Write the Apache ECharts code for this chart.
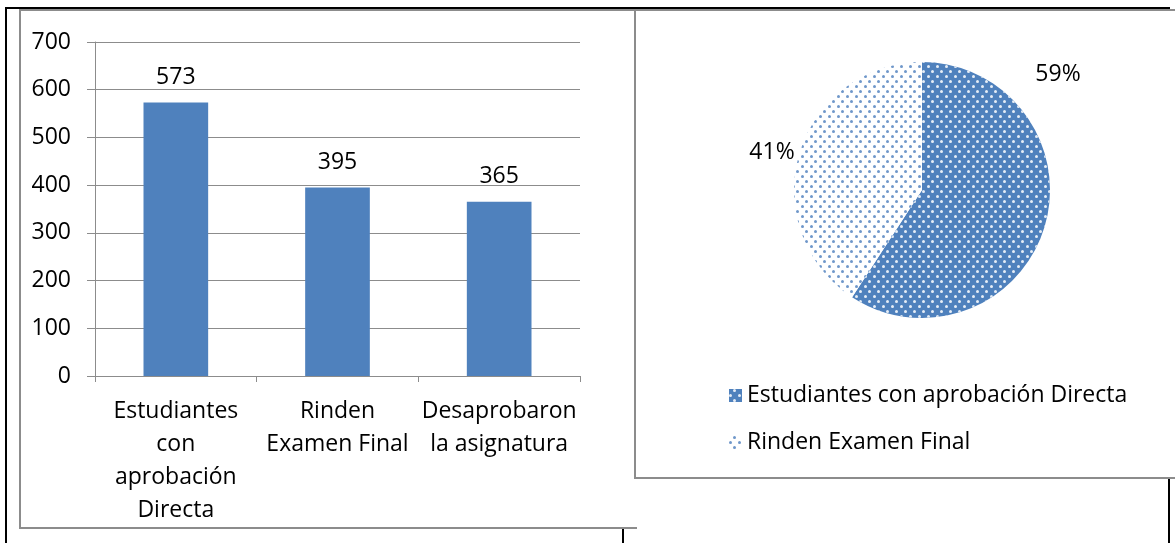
<!DOCTYPE html>
<html>
<head>
<meta charset="utf-8">
<script src="https://cdn.jsdelivr.net/npm/echarts@6/dist/echarts.min.js"></script>
<style>
html,body{margin:0;padding:0;background:#fff;}
#c{width:1175px;height:543px;}
</style>
</head>
<body>
<div id="c"></div>
<script>
// ---- data ----
const categories = ['Estudiantes con aprobación Directa', 'Rinden Examen Final', 'Desaprobaron la asignatura'];
const categoryLabels = ['Estudiantes\ncon\naprobación\nDirecta', 'Rinden\nExamen Final', 'Desaprobaron\nla asignatura'];
const barValues = [573, 395, 365];
const pieNames = ['Estudiantes con aprobación Directa', 'Rinden Examen Final'];
const pieValues = [573, 395];
const yTicks = [0, 100, 200, 300, 400, 500, 600, 700];

const FONT = '"Open Sans", "Noto Sans", sans-serif';
const FS = 23;
const BLUE = '#4F81BD';
const GRAY = '#8C8C8C';

const chart = echarts.init(document.getElementById('c'), null, {renderer: 'canvas'});

const labelMap = {};
categories.forEach((c, i) => labelMap[c] = categoryLabels[i]);

const pieLabelPos = [[1058, 74], [772, 152]];

chart.setOption({
  animation: false,
  backgroundColor: '#fff',
  textStyle: {fontFamily: FONT},
  grid: {left: 95, right: 595, top: 42, bottom: 167, containLabel: false},
  xAxis: {
    type: 'category',
    data: categories,
    axisLine: {show: true, lineStyle: {color: GRAY, width: 1}},
    axisTick: {show: true, length: 6, lineStyle: {color: GRAY}},
    axisLabel: {
      color: '#000', fontSize: FS, fontFamily: FONT, margin: 19, lineHeight: 33,
      interval: 0, align: 'center', verticalAlign: 'top',
      formatter: v => labelMap[v]
    }
  },
  yAxis: {
    type: 'value',
    min: yTicks[0], max: yTicks[yTicks.length - 1], interval: 100,
    axisLine: {show: true, lineStyle: {color: GRAY, width: 1}},
    axisTick: {show: true, length: 8, lineStyle: {color: GRAY}},
    splitLine: {show: true, lineStyle: {color: GRAY, width: 1}},
    axisLabel: {color: '#000', fontSize: FS, fontFamily: FONT, margin: 24}
  },
  legend: {
    orient: 'vertical',
    left: 724, top: 379,
    itemWidth: 13, itemHeight: 13, itemGap: 24,
    data: pieNames,
    textStyle: {color: '#000', fontSize: FS, fontFamily: FONT},
    icon: 'rect'
  },
  series: [
    {
      type: 'bar',
      data: barValues,
      barWidth: '40%',
      itemStyle: {color: BLUE},
      label: {show: true, position: 'top', distance: 14, color: '#000', fontSize: FS, fontFamily: FONT}
    },
    {
      type: 'pie',
      center: [922, 190],
      radius: 128,
      startAngle: 90,
      clockwise: true,
      label: {
        show: true, position: 'outside', color: '#000', fontSize: FS, fontFamily: FONT,
        formatter: p => Math.round(p.percent) + '%'
      },
      labelLine: {show: false},
      labelLayout: p => ({x: pieLabelPos[p.dataIndex][0], y: pieLabelPos[p.dataIndex][1], align: 'center', verticalAlign: 'middle'}),
      emphasis: {disabled: true},
      itemStyle: {borderWidth: 0},
      data: [
        {name: pieNames[0], value: pieValues[0], itemStyle: {color: BLUE,
          decal: {symbol: 'circle', color: '#e6edf6', symbolSize: 1, dashArrayX: [[2.4, 5.6], [0, 4, 2.4, 1.6]], dashArrayY: [2.4, 1.6]}}},
        {name: pieNames[1], value: pieValues[1], itemStyle: {color: '#ffffff',
          decal: {symbol: 'circle', color: '#6f97ca', symbolSize: 1, dashArrayX: [[2.2, 5.8], [0, 4, 2.2, 1.8]], dashArrayY: [2.2, 1.8]}}}
      ]
    }
  ],
  graphic: [
    // gray chart frames
    {type: 'line', shape: {x1: 19, y1: 10, x2: 1175, y2: 10}, style: {stroke: GRAY, lineWidth: 2}, z: 100},
    {type: 'line', shape: {x1: 20, y1: 10, x2: 20, y2: 528}, style: {stroke: GRAY, lineWidth: 2}, z: 100},
    {type: 'line', shape: {x1: 19, y1: 528, x2: 637, y2: 528}, style: {stroke: GRAY, lineWidth: 2}, z: 100},
    {type: 'line', shape: {x1: 635, y1: 10, x2: 635, y2: 478}, style: {stroke: GRAY, lineWidth: 2}, z: 100},
    {type: 'line', shape: {x1: 634, y1: 478, x2: 1175, y2: 478}, style: {stroke: GRAY, lineWidth: 2}, z: 100},
    // black page lines
    {type: 'line', shape: {x1: 5, y1: 8, x2: 1170, y2: 8}, style: {stroke: '#000', lineWidth: 2}, z: 101},
    {type: 'line', shape: {x1: 6, y1: 7, x2: 6, y2: 543}, style: {stroke: '#000', lineWidth: 2}, z: 101},
    {type: 'line', shape: {x1: 623, y1: 529, x2: 623, y2: 543}, style: {stroke: '#000', lineWidth: 2}, z: 101},
    {type: 'line', shape: {x1: 1169, y1: 479, x2: 1169, y2: 543}, style: {stroke: '#000', lineWidth: 2}, z: 101}
  ]
});
</script>
</body>
</html>
